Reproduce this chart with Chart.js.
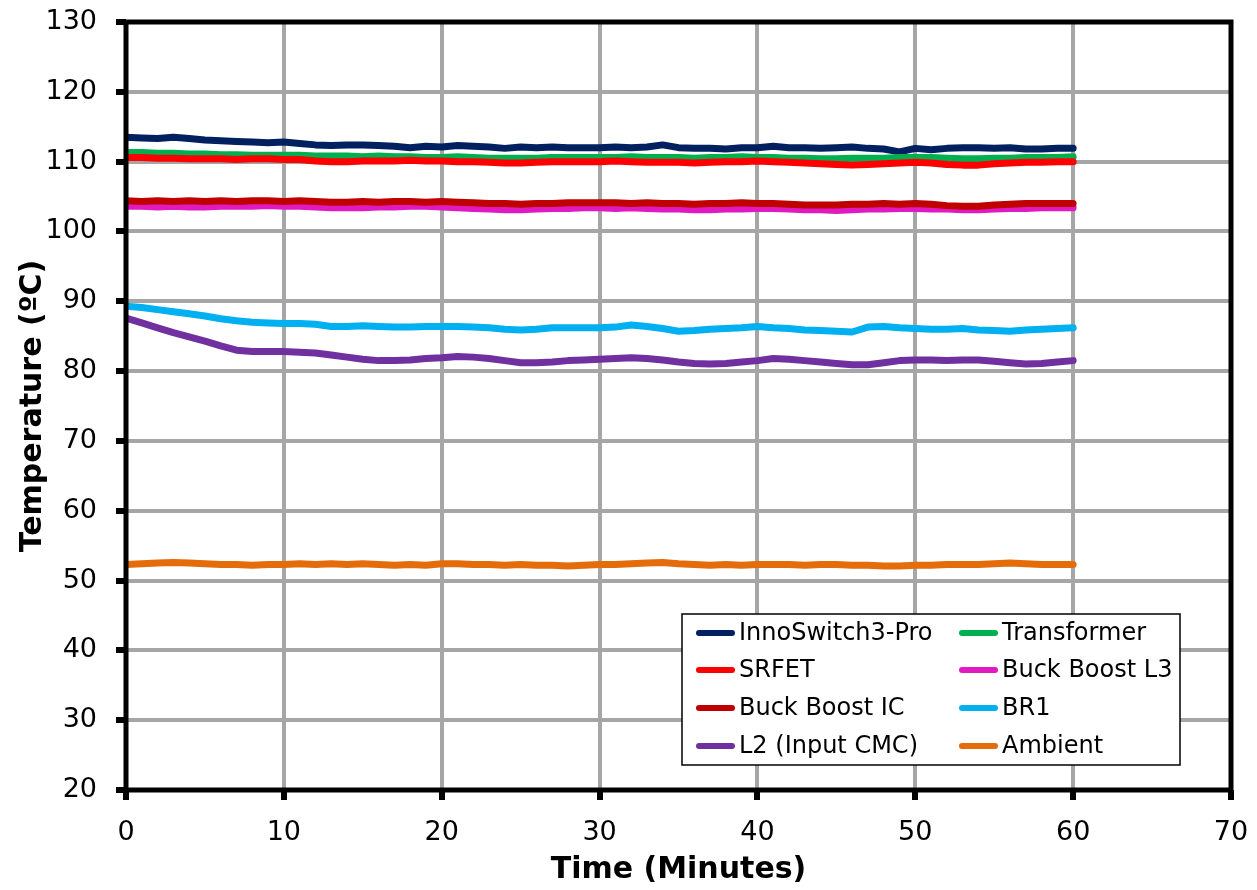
<!DOCTYPE html>
<html>
<head>
<meta charset="utf-8">
<script src="https://cdn.jsdelivr.net/npm/chart.js@4"></script>
<style>
html,body{margin:0;padding:0;background:#fff;}
#wrap{width:1257px;height:890px;}
</style>
</head>
<body>
<div id="wrap"><canvas id="c" width="1257" height="890"></canvas></div>
<script>
const minutes = [0,1,2,3,4,5,6,7,8,9,10,11,12,13,14,15,16,17,18,19,20,21,22,23,24,25,26,27,28,29,30,31,32,33,34,35,36,37,38,39,40,41,42,43,44,45,46,47,48,49,50,51,52,53,54,55,56,57,58,59,60];

const seriesNames = ["InnoSwitch3-Pro","Transformer","SRFET","Buck Boost L3","Buck Boost IC","BR1","L2 (Input CMC)","Ambient"];

const innoSwitch = [113.5,113.4,113.3,113.5,113.3,113.1,113.0,112.9,112.8,112.7,112.8,112.6,112.4,112.3,112.4,112.4,112.3,112.2,112.0,112.2,112.1,112.3,112.2,112.1,111.9,112.1,112.0,112.1,112.0,112.0,112.0,112.1,112.0,112.1,112.4,112.0,111.9,111.9,111.8,112.0,112.0,112.2,112.0,112.0,111.9,112.0,112.1,111.9,111.8,111.4,111.9,111.7,111.9,112.0,112.0,111.9,112.0,111.8,111.8,111.9,111.9];
const transformer = [111.3,111.3,111.2,111.2,111.1,111.1,111.0,111.0,110.9,110.9,110.9,110.9,110.8,110.8,110.8,110.7,110.8,110.7,110.7,110.6,110.6,110.7,110.6,110.5,110.5,110.5,110.5,110.6,110.6,110.6,110.6,110.6,110.7,110.6,110.6,110.6,110.5,110.6,110.6,110.7,110.6,110.6,110.5,110.5,110.4,110.4,110.5,110.5,110.5,110.6,110.6,110.6,110.5,110.4,110.4,110.5,110.5,110.6,110.6,110.6,110.7];
const srfet = [110.6,110.6,110.5,110.5,110.4,110.4,110.4,110.3,110.4,110.4,110.3,110.3,110.1,110.0,110.0,110.1,110.1,110.1,110.2,110.1,110.1,110.0,110.0,109.9,109.8,109.8,109.9,110.0,110.0,110.0,110.0,110.1,110.0,109.9,109.9,109.9,109.8,109.9,110.0,110.0,110.1,110.0,109.9,109.8,109.7,109.6,109.5,109.6,109.7,109.8,109.9,109.8,109.6,109.5,109.5,109.7,109.8,109.9,109.9,110.0,110.0];
const buckBoostL3 = [103.6,103.6,103.5,103.6,103.5,103.5,103.6,103.6,103.6,103.7,103.6,103.6,103.5,103.4,103.4,103.4,103.5,103.5,103.6,103.6,103.5,103.4,103.3,103.2,103.1,103.1,103.2,103.3,103.3,103.4,103.4,103.3,103.4,103.3,103.2,103.2,103.1,103.1,103.2,103.2,103.3,103.3,103.2,103.1,103.1,103.0,103.1,103.2,103.2,103.3,103.3,103.2,103.2,103.1,103.1,103.2,103.3,103.3,103.4,103.4,103.4];
const buckBoostIC = [104.4,104.3,104.4,104.3,104.4,104.3,104.4,104.3,104.4,104.4,104.3,104.4,104.3,104.2,104.2,104.3,104.2,104.3,104.3,104.2,104.3,104.2,104.1,104.0,104.0,103.9,104.0,104.0,104.1,104.1,104.1,104.1,104.0,104.1,104.0,104.0,103.9,104.0,104.0,104.1,104.0,104.0,103.9,103.8,103.8,103.8,103.9,103.9,104.0,103.9,104.0,103.9,103.7,103.6,103.6,103.8,103.9,104.0,104.0,104.0,104.0];
const br1 = [89.3,89.1,88.8,88.5,88.2,87.9,87.5,87.2,87.0,86.9,86.8,86.8,86.7,86.4,86.4,86.5,86.4,86.3,86.3,86.4,86.4,86.4,86.3,86.2,86.0,85.9,86.0,86.2,86.2,86.2,86.2,86.3,86.6,86.4,86.1,85.7,85.8,86.0,86.1,86.2,86.4,86.2,86.1,85.9,85.8,85.7,85.6,86.3,86.4,86.2,86.1,86.0,86.0,86.1,85.9,85.8,85.7,85.9,86.0,86.1,86.2];
const l2InputCMC = [87.6,86.9,86.2,85.5,84.9,84.3,83.6,83.0,82.8,82.8,82.8,82.7,82.6,82.3,82.0,81.7,81.5,81.5,81.6,81.8,81.9,82.1,82.0,81.8,81.5,81.2,81.2,81.3,81.5,81.6,81.7,81.8,81.9,81.8,81.6,81.3,81.1,81.0,81.1,81.3,81.5,81.8,81.7,81.5,81.3,81.1,80.9,80.9,81.2,81.5,81.6,81.6,81.5,81.6,81.6,81.4,81.2,81.0,81.1,81.3,81.5];
const ambient = [52.3,52.4,52.5,52.6,52.5,52.4,52.3,52.3,52.2,52.3,52.3,52.4,52.3,52.4,52.3,52.4,52.3,52.2,52.3,52.2,52.4,52.4,52.3,52.3,52.2,52.3,52.2,52.2,52.1,52.2,52.3,52.3,52.4,52.5,52.6,52.4,52.3,52.2,52.3,52.2,52.3,52.3,52.3,52.2,52.3,52.3,52.2,52.2,52.1,52.1,52.2,52.2,52.3,52.3,52.3,52.4,52.5,52.4,52.3,52.3,52.3];

const xTicks = [0,10,20,30,40,50,60,70];
const yTicks = [20,30,40,50,60,70,80,90,100,110,120,130];

const seriesValues = [innoSwitch, transformer, srfet, buckBoostL3, buckBoostIC, br1, l2InputCMC, ambient];
const seriesColors = ["#002060","#00B050","#FF0000","#E01AC0","#C00000","#00B0F0","#7030A0","#E46C0A"];

const FONT = '"DejaVu Sans", Verdana, sans-serif';

const datasets = seriesNames.map((name, i) => ({
  label: name,
  data: minutes.map((m, k) => ({x: m, y: seriesValues[i][k]})),
  borderColor: seriesColors[i],
  backgroundColor: seriesColors[i],
  borderWidth: 7,
  borderCapStyle: 'round',
  borderJoinStyle: 'round',
  pointRadius: 0,
  tension: 0,
  fill: false,
  order: seriesNames.length - i
}));

const framePlugin = {
  id: 'frame',
  afterDraw(chart) {
    const {ctx, chartArea: a} = chart;
    ctx.save();
    ctx.strokeStyle = '#000';
    ctx.lineWidth = 5;
    ctx.strokeRect(a.left, a.top, a.right - a.left, a.bottom - a.top);
    ctx.restore();
  }
};

const legendPlugin = {
  id: 'boxLegend',
  afterDraw(chart) {
    const ctx = chart.ctx;
    const box = {x: 682, y: 614, w: 498, h: 151};
    ctx.save();
    ctx.fillStyle = '#fff';
    ctx.fillRect(box.x, box.y, box.w, box.h);
    ctx.strokeStyle = '#000';
    ctx.lineWidth = 1.5;
    ctx.strokeRect(box.x, box.y, box.w, box.h);
    const cols = [{lx: 699, tx: 739}, {lx: 962, tx: 1002}];
    const rows = [633, 670, 708, 746];
    ctx.font = '24px ' + FONT;
    ctx.textBaseline = 'middle';
    ctx.textAlign = 'left';
    chart.data.datasets.forEach((ds, i) => {
      const c = cols[i % 2], r = rows[Math.floor(i / 2)];
      ctx.strokeStyle = ds.borderColor;
      ctx.lineWidth = 6;
      ctx.lineCap = 'round';
      ctx.beginPath();
      ctx.moveTo(c.lx, r);
      ctx.lineTo(c.lx + 33, r);
      ctx.stroke();
      ctx.fillStyle = '#000';
      ctx.fillText(ds.label, c.tx, r + 1);
    });
    ctx.restore();
  }
};

new Chart(document.getElementById('c'), {
  type: 'line',
  data: {datasets},
  options: {
    responsive: false,
    animation: false,
    layout: {padding: {top: 22, right: 26, left: 0, bottom: 0}},
    plugins: {legend: {display: false}, tooltip: {enabled: false}},
    scales: {
      x: {
        type: 'linear', min: 0, max: 70,
        afterBuildTicks(s) { s.ticks = xTicks.map(v => ({value: v})); },
        afterFit(s) { s.height = 100; s.paddingLeft = 0; s.paddingRight = 0; },
        grid: {color: '#A6A6A6', lineWidth: 4, drawTicks: true, tickLength: 10, tickColor: '#000', tickWidth: 6},
        border: {display: false},
        ticks: {color: '#000', font: {family: FONT, size: 27}, padding: 17, maxRotation: 0},
        title: {display: true, text: 'Time (Minutes)', color: '#000', font: {family: FONT, size: 30, weight: 'bold'}, padding: {top: 0, bottom: 2}}
      },
      y: {
        type: 'linear', min: 20, max: 130,
        afterBuildTicks(s) { s.ticks = yTicks.map(v => ({value: v})); },
        afterFit(s) { s.width = 126; s.paddingTop = 0; s.paddingBottom = 0; },
        grid: {color: '#A6A6A6', lineWidth: 4, drawTicks: true, tickLength: 10, tickColor: '#000', tickWidth: 6},
        border: {display: false},
        ticks: {color: '#000', font: {family: FONT, size: 27}, padding: 19},
        title: {display: true, text: 'Temperature (ºC)', color: '#000', font: {family: FONT, size: 30, weight: 'bold'}, padding: {top: 15, bottom: 0}}
      }
    }
  },
  plugins: [framePlugin, legendPlugin]
});
</script>
</body>
</html>
